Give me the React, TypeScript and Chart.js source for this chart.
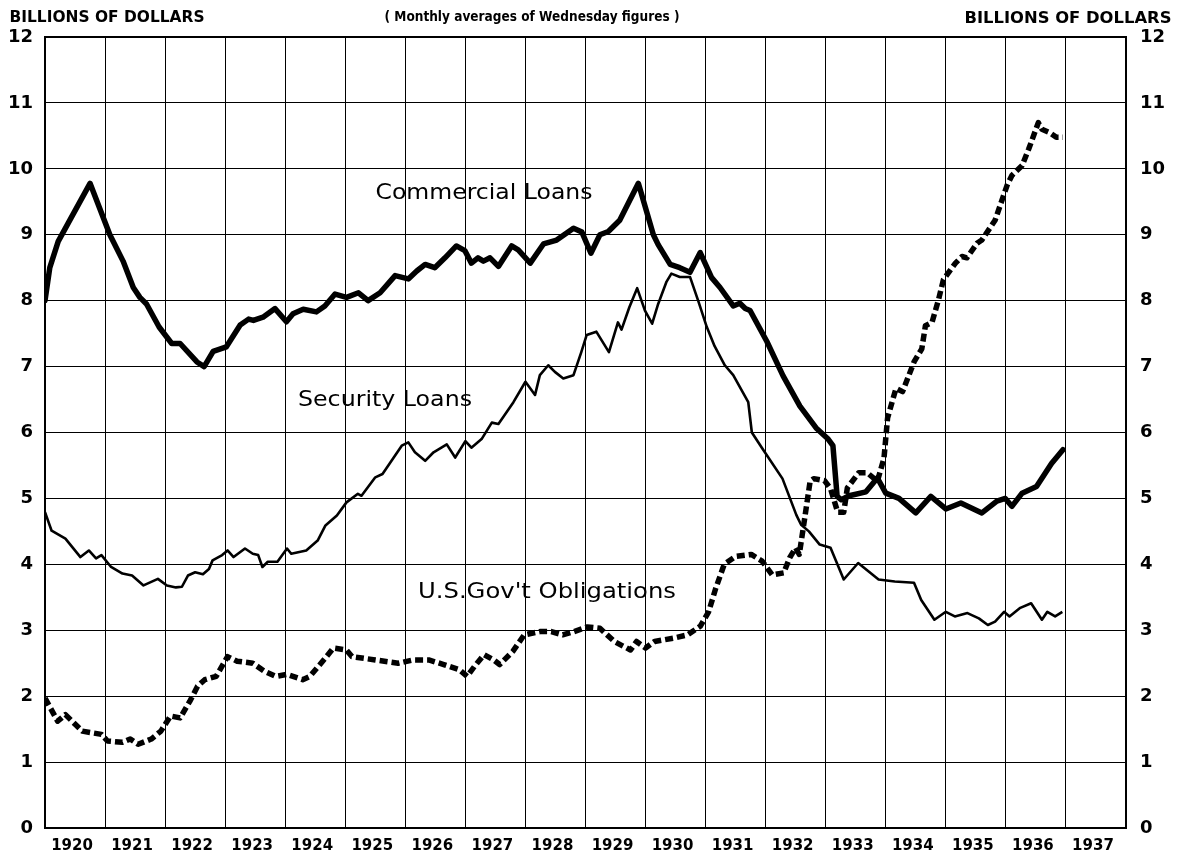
import React, { useEffect, useRef } from 'react';
import { Chart, registerables } from 'chart.js';

Chart.register(...registerables);

// ---------- Data (decimal years, billions of dollars) ----------
const commercialYears = [
  1920.0, 1920.08, 1920.22, 1920.4, 1920.75, 1921.08, 1921.3, 1921.47, 1921.58, 1921.69,
  1921.9, 1922.11, 1922.25, 1922.53, 1922.65, 1922.8, 1923.02, 1923.25, 1923.39, 1923.47,
  1923.63, 1923.83, 1924.02, 1924.13, 1924.3, 1924.52, 1924.66, 1924.83, 1925.02, 1925.22,
  1925.38, 1925.58, 1925.83, 1926.05, 1926.19, 1926.33, 1926.49, 1926.66, 1926.85, 1926.99,
  1927.1, 1927.21, 1927.3, 1927.41, 1927.55, 1927.77, 1927.88, 1928.08, 1928.3, 1928.52,
  1928.8, 1928.94, 1929.09, 1929.24, 1929.38, 1929.57, 1929.88, 1930.13, 1930.21, 1930.41,
  1930.57, 1930.74, 1930.91, 1931.1, 1931.24, 1931.46, 1931.57, 1931.66, 1931.74, 1932.02,
  1932.29, 1932.57, 1932.84, 1933.04, 1933.12, 1933.19, 1933.26, 1933.39, 1933.67, 1933.86,
  1934.0, 1934.22, 1934.5, 1934.75, 1935.0, 1935.25, 1935.6, 1935.85, 1935.99, 1936.1,
  1936.27, 1936.51, 1936.76, 1936.95,
];
const commercialValues = [
  8.0, 8.5, 8.9, 9.2, 9.78, 9.0, 8.6, 8.2, 8.05, 7.95,
  7.6, 7.35, 7.35, 7.07, 7.0, 7.23, 7.3, 7.63, 7.72, 7.7,
  7.75, 7.88, 7.68, 7.8, 7.87, 7.83, 7.92, 8.1, 8.05, 8.12,
  8.0, 8.12, 8.38, 8.33, 8.45, 8.55, 8.5, 8.65, 8.83, 8.76,
  8.57, 8.65, 8.6, 8.65, 8.52, 8.83, 8.77, 8.57, 8.86, 8.92,
  9.1, 9.04, 8.72, 9.0, 9.05, 9.22, 9.78, 9.0, 8.85, 8.55,
  8.5, 8.43, 8.73, 8.35, 8.2, 7.92, 7.96, 7.88, 7.85, 7.38,
  6.86, 6.4, 6.07, 5.9, 5.8, 5.03, 4.98, 5.04, 5.1, 5.31,
  5.08, 5.0, 4.78, 5.03, 4.84, 4.93, 4.78, 4.96, 5.0, 4.88,
  5.08, 5.18, 5.53, 5.74,
];

const securityYears = [
  1920.0, 1920.11, 1920.34, 1920.59, 1920.73, 1920.85, 1920.94, 1921.1, 1921.29, 1921.45,
  1921.64, 1921.88, 1922.03, 1922.18, 1922.28, 1922.38, 1922.5, 1922.63, 1922.73, 1922.79,
  1922.95, 1923.04, 1923.14, 1923.33, 1923.46, 1923.55, 1923.62, 1923.71, 1923.87, 1924.03,
  1924.1, 1924.35, 1924.54, 1924.67, 1924.86, 1925.02, 1925.21, 1925.27, 1925.5, 1925.62,
  1925.94, 1926.05, 1926.16, 1926.33, 1926.47, 1926.69, 1926.83, 1927.0, 1927.1, 1927.27,
  1927.44, 1927.55, 1927.8, 1928.0, 1928.16, 1928.24, 1928.38, 1928.49, 1928.63, 1928.8,
  1928.93, 1929.02, 1929.18, 1929.39, 1929.54, 1929.6, 1929.73, 1929.86, 1929.99, 1930.11,
  1930.21, 1930.35, 1930.43, 1930.57, 1930.74, 1930.88, 1931.02, 1931.15, 1931.32, 1931.46,
  1931.71, 1931.77, 1931.95, 1932.28, 1932.51, 1932.59, 1932.72, 1932.9, 1933.08, 1933.3,
  1933.54, 1933.88, 1934.15, 1934.47, 1934.59, 1934.81, 1935.0, 1935.15, 1935.36, 1935.55,
  1935.7, 1935.82, 1935.97, 1936.06, 1936.24, 1936.42, 1936.6, 1936.69, 1936.82, 1936.94,
];
const securityValues = [
  4.79, 4.51, 4.39, 4.11, 4.21, 4.09, 4.14, 3.96, 3.86, 3.83,
  3.68, 3.78, 3.68, 3.65, 3.66, 3.83, 3.88, 3.85, 3.93, 4.06,
  4.14, 4.21, 4.11, 4.24, 4.16, 4.14, 3.96, 4.04, 4.04, 4.24,
  4.16, 4.21, 4.36, 4.59, 4.74, 4.94, 5.07, 5.04, 5.32, 5.37,
  5.8, 5.85, 5.7, 5.57, 5.7, 5.82, 5.62, 5.87, 5.77, 5.9,
  6.15, 6.13, 6.46, 6.77, 6.57, 6.87, 7.02, 6.92, 6.82, 6.87,
  7.22, 7.48, 7.53, 7.22, 7.67, 7.56, 7.9, 8.19, 7.85, 7.65,
  7.95, 8.29, 8.41, 8.36, 8.36, 7.99, 7.6, 7.31, 7.02, 6.87,
  6.46, 6.0, 5.75, 5.3, 4.75, 4.6, 4.5, 4.3, 4.25, 3.77,
  4.02, 3.77, 3.74, 3.72, 3.46, 3.16, 3.28, 3.21, 3.26, 3.18,
  3.08, 3.13, 3.28, 3.21, 3.34, 3.41, 3.16, 3.28, 3.21, 3.28,
];

const govtYears = [
  1920.0, 1920.21, 1920.34, 1920.62, 1920.94, 1921.04, 1921.29, 1921.42, 1921.55, 1921.77,
  1921.93, 1922.09, 1922.25, 1922.41, 1922.54, 1922.66, 1922.85, 1923.04, 1923.2, 1923.46,
  1923.65, 1923.84, 1924.03, 1924.29, 1924.41, 1924.67, 1924.8, 1925.02, 1925.11, 1925.5,
  1925.88, 1926.13, 1926.39, 1926.64, 1926.9, 1927.03, 1927.15, 1927.31, 1927.47, 1927.57,
  1927.79, 1927.98, 1928.24, 1928.43, 1928.62, 1928.81, 1929.03, 1929.24, 1929.48, 1929.75,
  1929.85, 1930.0, 1930.15, 1930.46, 1930.7, 1930.91, 1931.05, 1931.17, 1931.31, 1931.5,
  1931.76, 1931.94, 1932.11, 1932.3, 1932.4, 1932.5, 1932.56, 1932.65, 1932.74, 1932.8,
  1932.98, 1933.08, 1933.2, 1933.3, 1933.36, 1933.55, 1933.69, 1933.86, 1933.97, 1934.03,
  1934.17, 1934.28, 1934.47, 1934.6, 1934.66, 1934.77, 1934.88, 1934.96, 1935.16, 1935.27,
  1935.35, 1935.52, 1935.6, 1935.82, 1936.02, 1936.1, 1936.27, 1936.38, 1936.54, 1936.6,
  1936.73, 1936.84, 1936.95,
];
const govtValues = [
  1.97, 1.62, 1.72, 1.47, 1.42, 1.32, 1.3, 1.35, 1.27, 1.35,
  1.47, 1.7, 1.67, 1.92, 2.15, 2.25, 2.3, 2.6, 2.53, 2.5,
  2.38, 2.3, 2.33, 2.25, 2.3, 2.58, 2.73, 2.7, 2.6, 2.55,
  2.5, 2.55, 2.55, 2.48, 2.4, 2.3, 2.45, 2.63, 2.55, 2.48,
  2.68, 2.93, 2.98, 2.98, 2.93, 2.98, 3.05, 3.03, 2.83, 2.7,
  2.83, 2.73, 2.83, 2.88, 2.93, 3.06, 3.28, 3.64, 4.0, 4.12,
  4.15, 4.05, 3.84, 3.87, 4.1, 4.25, 4.15, 4.7, 5.26, 5.3,
  5.27, 5.15, 4.79, 4.79, 5.16, 5.39, 5.39, 5.26, 5.61, 6.22,
  6.67, 6.62, 7.07, 7.27, 7.62, 7.67, 8.02, 8.32, 8.57, 8.67,
  8.65, 8.87, 8.92, 9.22, 9.75, 9.9, 10.05, 10.3, 10.7, 10.6,
  10.55, 10.48, 10.48,
];

const yearLabels = [
  '1920', '1921', '1922', '1923', '1924', '1925', '1926', '1927', '1928',
  '1929', '1930', '1931', '1932', '1933', '1934', '1935', '1936', '1937',
];

const seriesNames = ['Commercial Loans', 'Security Loans', "U.S.Gov't Obligations"];
const unitLabel = 'BILLIONS OF DOLLARS';
const subtitle = '( Monthly averages of Wednesday figures )';

const toPoints = (xs: number[], ys: number[]) => xs.map((x, i) => ({ x, y: ys[i] }));

function drawFitted(
  ctx: CanvasRenderingContext2D,
  text: string,
  cx: number,
  cy: number,
  width: number,
  font: string
) {
  ctx.save();
  ctx.font = font;
  const w = ctx.measureText(text).width;
  const sx = width / w;
  ctx.translate(cx, cy);
  ctx.scale(sx, 1);
  ctx.textAlign = 'center';
  ctx.textBaseline = 'middle';
  ctx.fillText(text, 0, 0);
  ctx.restore();
}

const overlayPlugin = {
  id: 'overlay',
  afterDraw(chart: any) {
    const { ctx, chartArea } = chart;
    ctx.save();
    ctx.strokeStyle = '#000';
    ctx.lineWidth = 2;
    ctx.beginPath();
    ctx.moveTo(chartArea.left, chartArea.top);
    ctx.lineTo(chartArea.right, chartArea.top);
    ctx.stroke();
    ctx.fillStyle = '#000';
    const hdr = 'bold 15px "DejaVu Sans"';
    drawFitted(ctx, unitLabel, 107, 18, 195, hdr);
    drawFitted(ctx, unitLabel, 1068, 19, 207, hdr);
    drawFitted(ctx, subtitle, 532, 17, 295, 'bold 14px "DejaVu Sans"');
    const lab = '22px "DejaVu Sans"';
    drawFitted(ctx, seriesNames[0], 484, 193, 217, lab);
    drawFitted(ctx, seriesNames[1], 385, 400, 174, lab);
    drawFitted(ctx, seriesNames[2], 547, 592, 258, lab);
    ctx.restore();
  },
};

export default function App() {
  const canvasRef = useRef<HTMLCanvasElement | null>(null);

  useEffect(() => {
    if (!canvasRef.current) return;
    const chart = new Chart(canvasRef.current, {
      type: 'line',
      data: {
        datasets: [
          {
            label: seriesNames[0],
            data: toPoints(commercialYears, commercialValues),
            borderColor: '#000',
            borderWidth: 5.5,
            pointRadius: 0,
            tension: 0,
            borderJoinStyle: 'round',
            borderCapStyle: 'round',
          },
          {
            label: seriesNames[1],
            data: toPoints(securityYears, securityValues),
            borderColor: '#000',
            borderWidth: 2.6,
            pointRadius: 0,
            tension: 0,
            borderJoinStyle: 'round',
          },
          {
            label: seriesNames[2],
            data: toPoints(govtYears, govtValues),
            borderColor: '#000',
            borderWidth: 5.5,
            borderDash: [8, 4],
            pointRadius: 0,
            tension: 0,
            borderJoinStyle: 'round',
          },
        ],
      },
      options: {
        responsive: false,
        animation: false,
        devicePixelRatio: 1,
        layout: { padding: { top: 37, left: 0, right: 0, bottom: 0 } },
        plugins: {
          legend: { display: false },
          tooltip: { enabled: false },
        },
        scales: {
          x: {
            type: 'linear',
            min: 1920,
            max: 1938,
            afterFit: (s: any) => {
              s.height = 33;
            },
            ticks: {
              stepSize: 1,
              autoSkip: false,
              maxRotation: 0,
              labelOffset: 27,
              padding: 9,
              color: '#000',
              font: { family: '"DejaVu Sans"', size: 15, weight: 'bold' },
              callback: (v: any) => yearLabels[Math.round(Number(v)) - 1920] ?? '',
            },
            grid: { color: '#000', lineWidth: 1, drawTicks: false },
            border: { display: true, color: '#000', width: 2 },
          },
          y: {
            type: 'linear',
            position: 'left',
            min: 0,
            max: 12,
            afterFit: (s: any) => {
              s.width = 45;
            },
            ticks: {
              stepSize: 1,
              padding: 12,
              color: '#000',
              font: { family: '"DejaVu Sans"', size: 18, weight: 'bold' },
            },
            grid: { color: '#000', lineWidth: 1, drawTicks: false },
            border: { display: true, color: '#000', width: 2 },
          },
          y2: {
            type: 'linear',
            position: 'right',
            min: 0,
            max: 12,
            afterFit: (s: any) => {
              s.width = 55;
            },
            ticks: {
              stepSize: 1,
              padding: 14,
              color: '#000',
              font: { family: '"DejaVu Sans"', size: 18, weight: 'bold' },
            },
            grid: { display: false, drawTicks: false },
            border: { display: true, color: '#000', width: 2 },
          },
        },
      },
      plugins: [overlayPlugin],
    } as any);
    return () => chart.destroy();
  }, []);

  return (
    <div style={{ position: 'fixed', left: 0, top: 0, width: 1181, height: 861, background: '#fff' }}>
      <canvas ref={canvasRef} width={1181} height={861} style={{ width: 1181, height: 861 }} />
    </div>
  );
}
